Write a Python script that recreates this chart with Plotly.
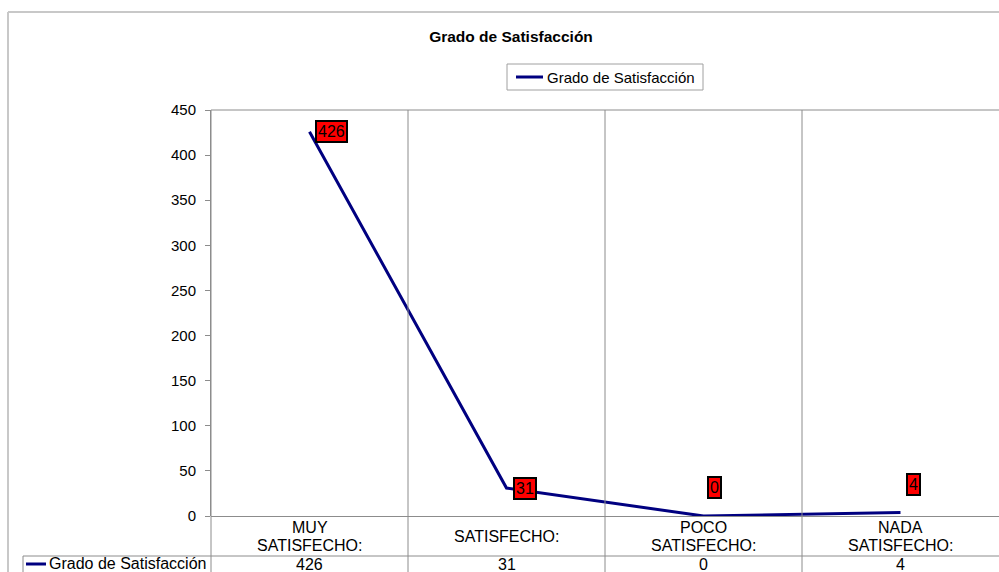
import plotly.graph_objects as go

categories = ["MUY<br>SATISFECHO:", "SATISFECHO:", "POCO<br>SATISFECHO:", "NADA<br>SATISFECHO:"]
values = [426, 31, 0, 4]
series_name = "Grado de Satisfacción"
y_ticks = [0, 50, 100, 150, 200, 250, 300, 350, 400, 450]

FONT = "Liberation Sans, Arial, sans-serif"
LINE = "#000080"
GRID = "#8c8c8c"

W, H = 999, 572
L, R, T, B = 211, 0, 110, 56
pw, ph = W - L - R, H - T - B

def px(x):  # pixel x -> paper
    return (x - L) / pw

def py(y):  # pixel y -> paper
    return (H - B - y) / ph

xs = list(range(len(categories)))

fig = go.Figure()
fig.add_trace(go.Scatter(
    x=xs, y=values, mode="lines", name=series_name,
    line=dict(color=LINE, width=3), showlegend=False, hoverinfo="skip"))

shapes = []
annotations = []

# vertical category separators extending through labels and table
for b in [0.5, 1.5, 2.5]:
    shapes.append(dict(type="line", xref="x", yref="paper", x0=b, x1=b,
                       y0=py(H), y1=1, line=dict(color=GRID, width=1)))
shapes.append(dict(type="line", xref="paper", yref="paper", x0=0, x1=0,
                   y0=py(H), y1=1, line=dict(color=GRID, width=1)))
# top of plot area
shapes.append(dict(type="line", xref="paper", yref="paper", x0=0, x1=1,
                   y0=1, y1=1, line=dict(color=GRID, width=1)))
# table row line
shapes.append(dict(type="line", xref="paper", yref="paper", x0=px(23), x1=1,
                   y0=py(556), y1=py(556), line=dict(color=GRID, width=1)))
shapes.append(dict(type="line", xref="paper", yref="paper", x0=px(23), x1=px(23),
                   y0=py(556), y1=py(H), line=dict(color=GRID, width=1)))
# outer chart frame
shapes.append(dict(type="line", xref="paper", yref="paper", x0=px(8), x1=px(W),
                   y0=py(12), y1=py(12), line=dict(color="#c8c8c8", width=2)))
shapes.append(dict(type="line", xref="paper", yref="paper", x0=px(8), x1=px(8),
                   y0=py(12), y1=py(H), line=dict(color="#c8c8c8", width=2)))

# legend box
shapes.append(dict(type="rect", xref="paper", yref="paper", x0=px(507), x1=px(703),
                   y0=py(90), y1=py(64), line=dict(color="#a0a0a0", width=1),
                   fillcolor="white"))
shapes.append(dict(type="line", xref="paper", yref="paper", x0=px(516), x1=px(543),
                   y0=py(77), y1=py(77), line=dict(color=LINE, width=3)))
annotations.append(dict(xref="paper", yref="paper", x=px(545), y=py(77),
                        text=series_name, showarrow=False, xanchor="left",
                        yanchor="middle", font=dict(family=FONT, size=15, color="black")))

# table row legend key and label
shapes.append(dict(type="line", xref="paper", yref="paper", x0=px(26), x1=px(46),
                   y0=py(564), y1=py(564), line=dict(color=LINE, width=3)))
annotations.append(dict(xref="paper", yref="paper", x=px(47), y=py(563.5),
                        text=series_name, showarrow=False, xanchor="left",
                        yanchor="middle", font=dict(family=FONT, size=16, color="black")))

# category labels and table values
for i, (c, v) in enumerate(zip(categories, values)):
    parts = c.split("<br>")
    ys = [536] if len(parts) == 1 else [527, 545]
    for part, yy in zip(parts, ys):
        annotations.append(dict(xref="x", yref="paper", x=i, y=py(yy), text=part,
                                showarrow=False, xanchor="center", yanchor="middle",
                                font=dict(family=FONT, size=16, color="black")))
    annotations.append(dict(xref="x", yref="paper", x=i, y=py(564), text=str(v),
                            showarrow=False, xanchor="center", yanchor="middle",
                            font=dict(family=FONT, size=16, color="black")))

# data labels
shifts = [(22, 0), (18, 0), (11, 29), (13, 28)]
for i, (v, (dx, dy)) in enumerate(zip(values, shifts)):
    annotations.append(dict(xref="x", yref="y", x=i, y=v, text=str(v),
                            showarrow=False, xshift=dx, yshift=dy,
                            bgcolor="#ff0000", bordercolor="black", borderwidth=2,
                            borderpad=1,
                            font=dict(family=FONT, size=16, color="black")))

fig.update_layout(
    width=W, height=H,
    margin=dict(l=L, r=R, t=T, b=B),
    paper_bgcolor="white", plot_bgcolor="white",
    title=dict(text="<b>Grado de Satisfacción</b>", x=511 / W, y=1 - 37 / H,
               xanchor="center", yanchor="middle", xref="container", yref="container",
               font=dict(family=FONT, size=15.5, color="black")),
    xaxis=dict(range=[-0.5, 3.5], showticklabels=False, showgrid=False,
               zeroline=False, showline=False, ticks=""),
    yaxis=dict(range=[0, 450], tickvals=y_ticks, showgrid=False, zeroline=True,
               zerolinecolor=GRID, zerolinewidth=1,
               showline=True, linecolor=GRID, linewidth=1,
               ticks="outside", ticklen=5, tickcolor=GRID,
               tickfont=dict(family=FONT, size=15, color="black"), ticklabelstandoff=6),
    shapes=shapes, annotations=annotations, showlegend=False,
)

fig.write_html("out.html", config={"displayModeBar": False},
               post_script="document.body.style.margin='0';document.body.style.overflow='hidden';")
